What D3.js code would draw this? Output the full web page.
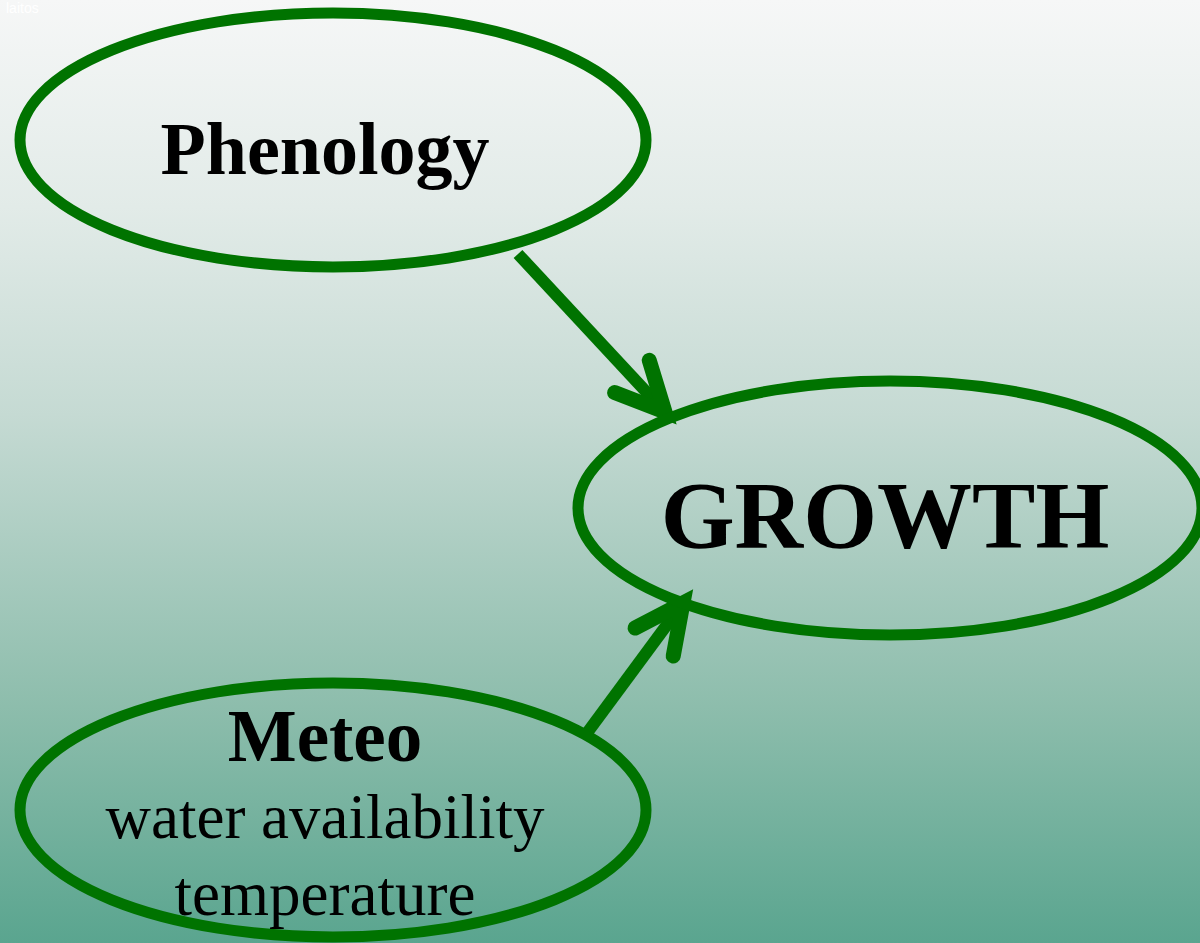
<!DOCTYPE html>
<html>
<head>
<meta charset="utf-8">
<script src="https://cdn.jsdelivr.net/npm/d3@7"></script>
<style>
  html, body { margin: 0; padding: 0; overflow: hidden; }
  svg { display: block; }
</style>
</head>
<body>
<div id="diagram"></div>
<script>
// nodes of the diagram
const nodeIds = ["phenology", "growth", "meteo"];
const nodeTitles = ["Phenology", "GROWTH", "Meteo"];
const nodeSubtitles = [[], [], ["water availability", "temperature"]];
// which node feeds which
const linkSources = ["phenology", "meteo"];
const linkTargets = ["growth", "growth"];
const cornerLabel = "laitos";

const width = 1200;
const height = 943;

// layout, kept apart from the data
const layout = {
    phenology: { cx: 333, cy: 140, rx: 313, ry: 127, titleSize: 74, titleY: 174 },
    growth:    { cx: 890, cy: 508, rx: 312, ry: 127, titleSize: 95, titleY: 548 },
    meteo:     { cx: 333, cy: 810, rx: 313, ry: 127, titleSize: 73, titleY: 761 }
};
const arrowEnds = {
    "phenology-growth": { from: [518, 254], to: [665, 412] },
    "meteo-growth":     { from: [587, 733], to: [683, 603] }
};
const green = "#007300";

const nodes = nodeIds.map((id, i) => ({
    id, title: nodeTitles[i], subtitle: nodeSubtitles[i], ...layout[id]
}));
const links = linkSources.map((s, i) => ({ source: s, target: linkTargets[i] }));

const svg = d3.select("#diagram")
    .append("svg")
    .attr("width", width)
    .attr("height", height);

const defs = svg.append("defs");
const grad = defs.append("linearGradient")
    .attr("id", "bg")
    .attr("x1", 0).attr("y1", 0)
    .attr("x2", 0).attr("y2", 1);
grad.selectAll("stop")
    .data([
        { o: 0, c: "#f6f7f7" },
        { o: 0.22, c: "#e2ebe8" },
        { o: 0.44, c: "#c5dad3" },
        { o: 0.75, c: "#8dbdac" },
        { o: 1, c: "#5aa58f" }
    ])
    .enter()
    .append("stop")
    .attr("offset", d => d.o)
    .attr("stop-color", d => d.c);

svg.append("rect")
    .attr("width", width)
    .attr("height", height)
    .attr("fill", "url(#bg)");

svg.append("text")
    .attr("x", 6)
    .attr("y", 13)
    .attr("font-family", "Liberation Sans, Arial, sans-serif")
    .attr("font-size", 14)
    .attr("fill", "#ffffff")
    .text(cornerLabel);

// arrows
const arrowG = svg.append("g")
    .attr("stroke", green)
    .attr("fill", "none");

links.forEach(l => {
    const e = arrowEnds[l.source + "-" + l.target];
    const [x1, y1] = e.from, [x2, y2] = e.to;
    const back = Math.atan2(y1 - y2, x1 - x2);
    const spread = 26 * Math.PI / 180;
    const len = 54;
    const a1 = [x2 + len * Math.cos(back + spread), y2 + len * Math.sin(back + spread)];
    const a2 = [x2 + len * Math.cos(back - spread), y2 + len * Math.sin(back - spread)];

    arrowG.append("line")
        .attr("x1", x1).attr("y1", y1)
        .attr("x2", x2 - 6 * Math.cos(back + Math.PI)).attr("y2", y2 - 6 * Math.sin(back + Math.PI))
        .attr("stroke-width", 12);

    arrowG.append("path")
        .attr("d", d3.line()([a1, [x2, y2], a2]))
        .attr("stroke-width", 15)
        .attr("stroke-linecap", "round")
        .attr("stroke-linejoin", "miter");
});

// ellipses
const node = svg.append("g")
    .selectAll("g")
    .data(nodes)
    .enter()
    .append("g");

node.append("ellipse")
    .attr("cx", d => d.cx)
    .attr("cy", d => d.cy)
    .attr("rx", d => d.rx)
    .attr("ry", d => d.ry)
    .attr("fill", "none")
    .attr("stroke", green)
    .attr("stroke-width", 11);

node.append("text")
    .attr("x", d => d.id === "growth" ? d.cx - 5 : d.cx - 8)
    .attr("y", d => d.titleY)
    .attr("text-anchor", "middle")
    .attr("font-family", "Liberation Serif, Times New Roman, serif")
    .attr("font-weight", "bold")
    .attr("font-size", d => d.titleSize)
    .attr("fill", "#000")
    .text(d => d.title);

node.each(function(d) {
    d3.select(this).selectAll("text.sub")
        .data(d.subtitle)
        .enter()
        .append("text")
        .attr("class", "sub")
        .attr("x", d.cx - 8)
        .attr("y", (s, i) => d.titleY + 77 + i * 77)
        .attr("text-anchor", "middle")
        .attr("font-family", "Liberation Serif, Times New Roman, serif")
        .attr("font-size", 63)
        .attr("fill", "#000")
        .text(s => s);
});
</script>
</body>
</html>
